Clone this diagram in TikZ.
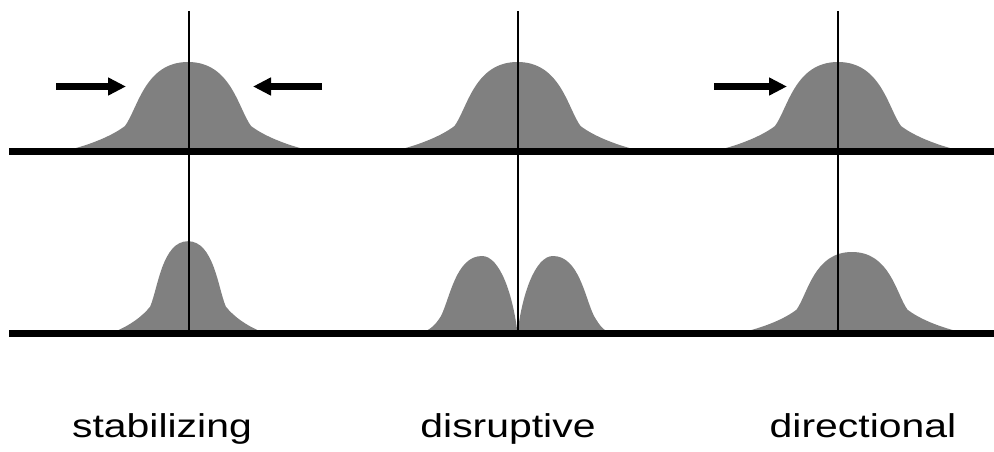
\documentclass[tikz,border=0pt]{standalone}
\usepackage{fontspec}
\setmainfont{Liberation Sans}
\usetikzlibrary{arrows.meta}
\definecolor{bellgray}{RGB}{128,128,128}
\tikzset{
  axisline/.style={line width=7pt, black},
  meanline/.style={line width=2pt, black},
  selarrow/.style={line width=7pt, black, -{Triangle[length=18pt,width=17pt]}},
  lbl/.style={font=\fontsize{33}{40}\selectfont, anchor=base, inner sep=0pt},
  bellshape/.pic={
    \fill[bellgray] (-128,0) .. controls (-100,-6) and (-76,-16) .. (-63,-26)
      .. controls (-50,-44) and (-43,-90) .. (0,-90)
      .. controls (43,-90) and (50,-44) .. (63,-26)
      .. controls (76,-16) and (100,-6) .. (128,0) -- cycle;
  }
}
\begin{document}
\begin{tikzpicture}[x=1pt,y=-1pt]
\useasboundingbox (0,0) rectangle (994,452);
% top row distributions
\pic at (188,152) {bellshape};
\pic at (517.5,152) {bellshape};
\pic at (838,152) {bellshape};
% bottom row distributions
\pic[xscale=0.6,yscale=1.02] at (188,333) {bellshape};
\pic[xscale=0.88,yscale=0.9] at (852,333) {bellshape};
% disruptive: two humps
\fill[bellgray] (418,333) .. controls (428,332) and (435,326) .. (441,316)
  .. controls (450,298) and (456,256) .. (482,256)
  .. controls (500,256) and (513,295) .. (517.5,333) -- cycle;
\fill[bellgray] (517.5,333) .. controls (522,295) and (535,256) .. (553,256)
  .. controls (579,256) and (585,298) .. (594,316)
  .. controls (600,326) and (604,332) .. (613,333) -- cycle;
% mean lines
\coordinate (m1t) at (188.5,11); \coordinate (m1b) at (188.5,333);
\coordinate (m2t) at (517.5,11); \coordinate (m2b) at (517.5,333);
\coordinate (m3t) at (838,11);   \coordinate (m3b) at (838,333);
\draw[meanline] (m1t) -- (m1b);
\draw[meanline] (m2t) -- (m2b);
\draw[meanline] (m3t) -- (m3b);
% axes
\coordinate (ax1l) at (9,151.5); \coordinate (ax1r) at (994,151.5);
\coordinate (ax2l) at (9,333);   \coordinate (ax2r) at (994,333);
\draw[axisline] (ax1l) -- (ax1r);
\draw[axisline] (ax2l) -- (ax2r);
% selection arrows
\coordinate (a1s) at (56,86.5);  \coordinate (a1e) at (126,86.5);
\coordinate (a2s) at (322,86.5); \coordinate (a2e) at (253,86.5);
\coordinate (a3s) at (714,86.5); \coordinate (a3e) at (787,86.5);
\draw[selarrow] (a1s) -- (a1e);
\draw[selarrow] (a2s) -- (a2e);
\draw[selarrow] (a3s) -- (a3e);
% labels
\node[lbl] (l1) at (162,437.5) {\scalebox{1.24}[1]{stabilizing}};
\node[lbl] (l2) at (508,437.5) {\scalebox{1.24}[1]{disruptive}};
\node[lbl] (l3) at (863,437.5) {\scalebox{1.24}[1]{directional}};
\end{tikzpicture}
\end{document}
